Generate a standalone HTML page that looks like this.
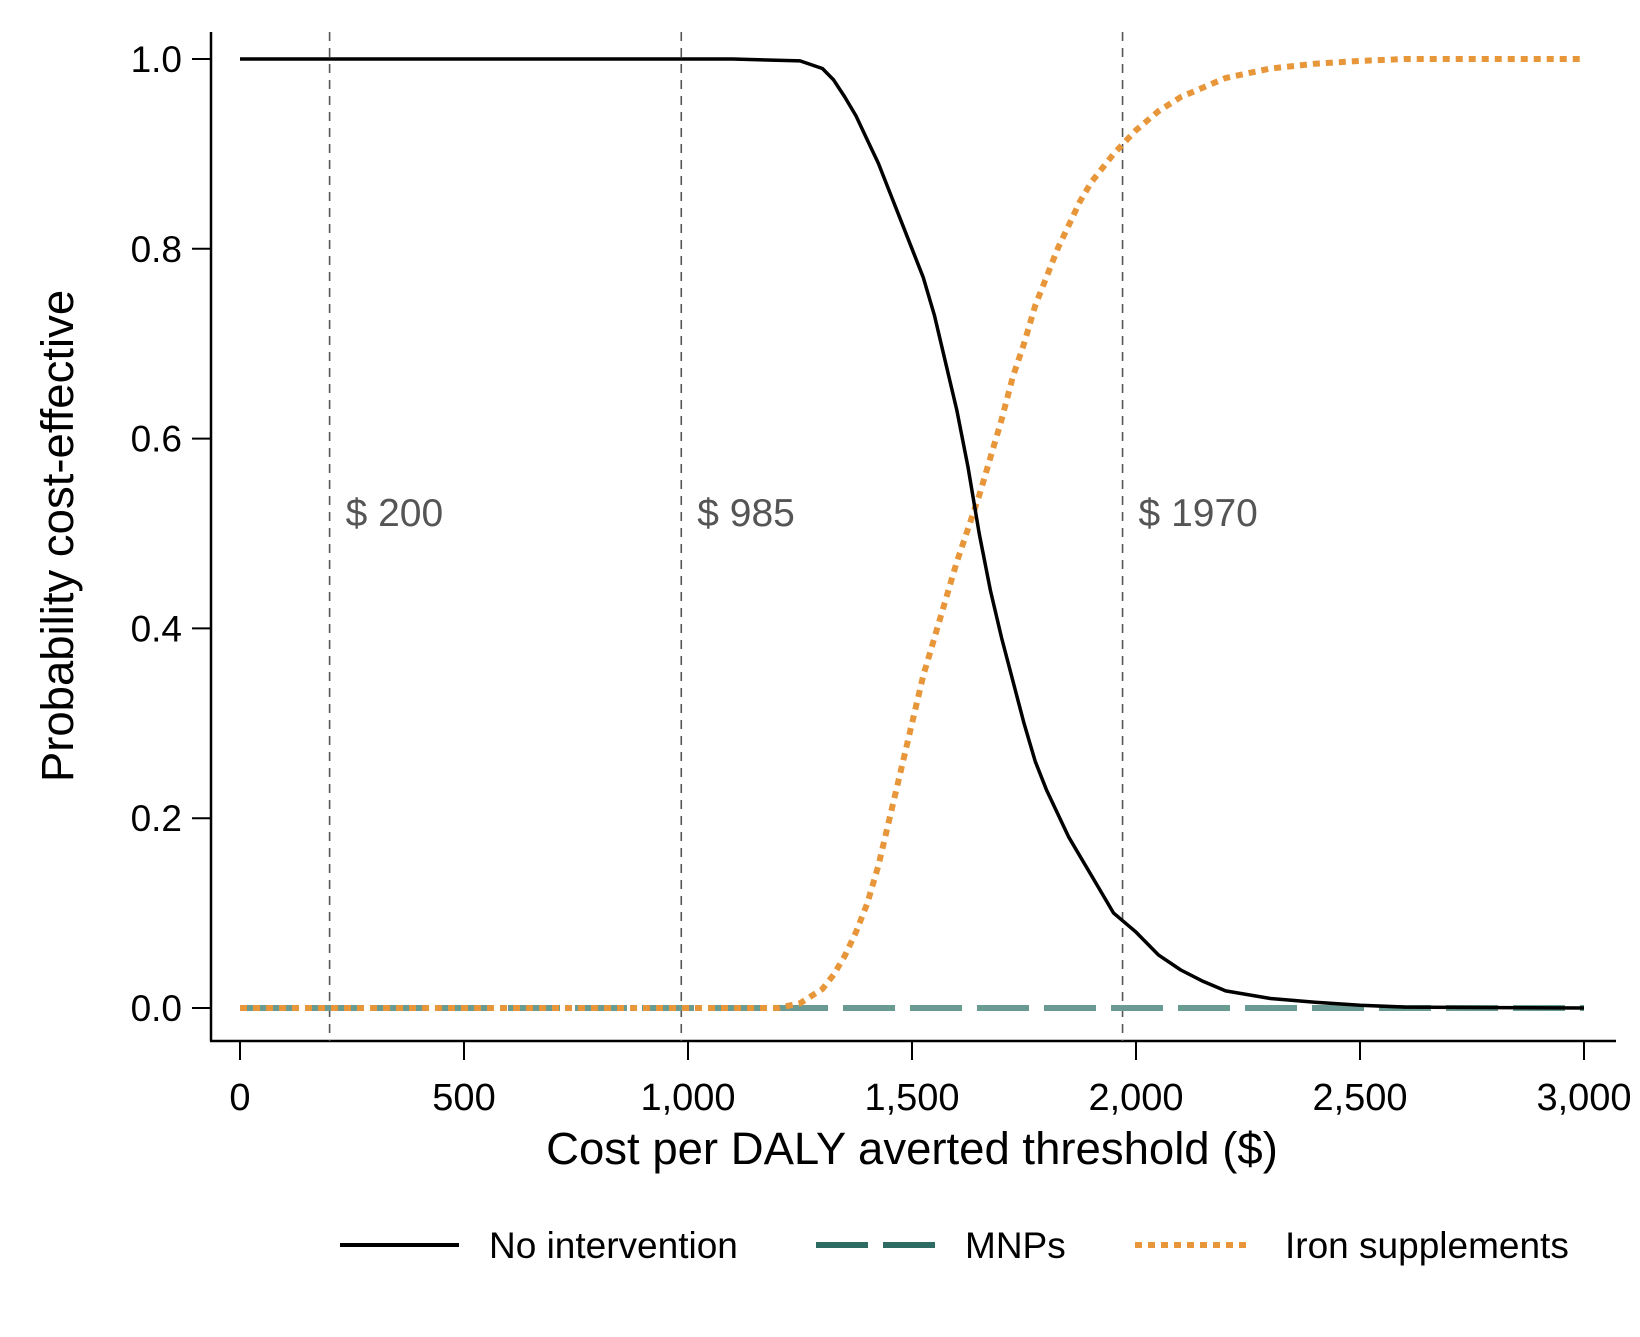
<!DOCTYPE html>
<html><head><meta charset="utf-8"><style>
html,body{margin:0;padding:0;background:#fff;}
svg text{font-family:"Liberation Sans",sans-serif;}
</style></head><body>
<svg id="chart" width="1640" height="1332" viewBox="0 0 1640 1332" xmlns="http://www.w3.org/2000/svg">
<g id="plot"></g>
</svg>
<script>
const xTicks=[0,500,1000,1500,2000,2500,3000];
const xTickLabels=["0","500","1,000","1,500","2,000","2,500","3,000"];
const yTicks=[0,0.2,0.4,0.6,0.8,1.0];
const yTickLabels=["0.0","0.2","0.4","0.6","0.8","1.0"];
const thresholds=[200,985,1970];
const thresholdLabels=["$ 200","$ 985","$ 1970"];
const noX=[0,1100,1250,1300,1325,1350,1375,1400,1425,1450,1475,1500,1525,1550,1575,1600,1625,1650,1675,1700,1725,1750,1775,1800,1825,1850,1875,1900,1925,1950,2000,2050,2100,2150,2200,2300,2400,2500,2600,3000];
const noY=[1,1,0.998,0.99,0.978,0.96,0.94,0.915,0.89,0.86,0.83,0.80,0.77,0.73,0.68,0.63,0.57,0.50,0.44,0.39,0.345,0.30,0.26,0.23,0.205,0.18,0.16,0.14,0.12,0.10,0.08,0.056,0.04,0.028,0.018,0.01,0.006,0.003,0.001,0];
const ironX=[0,1200,1250,1300,1325,1350,1375,1400,1425,1450,1475,1500,1525,1550,1575,1600,1625,1650,1675,1700,1725,1750,1775,1800,1825,1850,1875,1900,1950,2000,2050,2100,2200,2300,2400,2500,2600,3000];
const ironY=[0,0,0.005,0.02,0.035,0.055,0.08,0.11,0.15,0.2,0.25,0.3,0.35,0.39,0.43,0.47,0.505,0.54,0.58,0.62,0.665,0.70,0.74,0.77,0.80,0.825,0.85,0.87,0.9,0.925,0.945,0.96,0.98,0.99,0.995,0.998,1,1];
const mnpX=[0,3000];
const mnpY=[0,0];

const X=v=>240+v*(1584-240)/3000;
const Y=v=>1008-v*(1008-59);
const NS="http://www.w3.org/2000/svg";
const g=document.getElementById('plot');
function mk(tag,attrs,parent){const e=document.createElementNS(NS,tag);for(const k in attrs)e.setAttribute(k,attrs[k]);(parent||g).appendChild(e);return e;}

let e=mk('line',{x1:211,y1:32,x2:211,y2:1041,stroke:'#000','stroke-width':2.5});


e=mk('line',{x1:210,y1:1041,x2:1616,y2:1041,stroke:'#000','stroke-width':2.5});



yTicks.forEach((t,i)=>{
  let l=mk('line',{x1:192,y1:Y(t),x2:211,y2:Y(t),stroke:'#000','stroke-width':2});
  
  
  let tx=mk('text',{x:182,y:Y(t)+13,'text-anchor':'end','font-size':37,fill:'#000'});
  tx.textContent=yTickLabels[i];
  
  
});
xTicks.forEach((t,i)=>{
  let l=mk('line',{x1:X(t),y1:1041,x2:X(t),y2:1060,stroke:'#000','stroke-width':2});
  
  
  let tx=mk('text',{x:X(t),y:1110,'text-anchor':'middle','font-size':38,fill:'#000'});
  tx.textContent=xTickLabels[i];
  
  
});

thresholds.forEach((t,i)=>{
  let l=mk('line',{x1:X(t),y1:32,x2:X(t),y2:1041,stroke:'#555','stroke-width':1.6,'stroke-dasharray':'9 7'});
  
  
  let tx=mk('text',{x:X(t)+16,y:526,'font-size':39,fill:'#555'});
  tx.textContent=thresholdLabels[i];
  
  
});

function path(xs,ys){return xs.map((x,i)=>(i?'L':'M')+X(x).toFixed(1)+','+Y(ys[i]).toFixed(1)).join(' ');}
e=mk('path',{d:path(mnpX,mnpY),fill:'none',stroke:'#6a9b92','stroke-width':6,'stroke-dasharray':'52 15'});


e=mk('path',{d:path(ironX,ironY),fill:'none',stroke:'#e8963a','stroke-width':6,'stroke-dasharray':'7 6'});


e=mk('path',{d:path(noX,noY),fill:'none',stroke:'#000','stroke-width':3.5,'stroke-linejoin':'round'});



e=mk('text',{x:912,y:1164,'text-anchor':'middle','font-size':45.5,fill:'#000'});
e.textContent='Cost per DALY averted threshold ($)';


e=mk('text',{x:0,y:0,'text-anchor':'middle','font-size':45.5,fill:'#000',transform:'translate(73,536) rotate(-90)'});
e.textContent='Probability cost-effective';



const lg=mk('g',{});


e=mk('line',{x1:340,y1:1245,x2:459,y2:1245,stroke:'#000','stroke-width':4},lg);


e=mk('text',{x:489,y:1258,'font-size':37,fill:'#000'},lg);e.textContent='No intervention';


e=mk('line',{x1:816,y1:1245,x2:936,y2:1245,stroke:'#2e6b63','stroke-width':6,'stroke-dasharray':'52 15'},lg);


e=mk('text',{x:965,y:1258,'font-size':37,fill:'#000'},lg);e.textContent='MNPs';


e=mk('line',{x1:1135,y1:1245,x2:1248,y2:1245,stroke:'#e8963a','stroke-width':6,'stroke-dasharray':'7 6'},lg);


e=mk('text',{x:1285,y:1258,'font-size':37,fill:'#000'},lg);e.textContent='Iron supplements';


</script>
</body></html>
